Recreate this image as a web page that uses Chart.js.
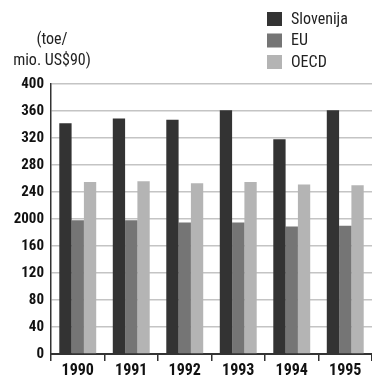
<!DOCTYPE html>
<html>
<head>
<meta charset="utf-8">
<script src="https://cdn.jsdelivr.net/npm/chart.js@4/dist/chart.umd.min.js"></script>
<style>
  html, body { margin: 0; padding: 0; background: #fff; }
  #wrap { position: relative; width: 372px; height: 375px; }
</style>
</head>
<body>
<div id="wrap"><canvas id="c" width="372" height="375"></canvas></div>
<script>
// Energy intensity, toe per million US$ (1990 prices)
const years = ['1990', '1991', '1992', '1993', '1994', '1995'];
const slovenija = [342, 349, 347, 361, 318, 361];
const eu = [198, 198, 195, 195, 189, 190];
const oecd = [255, 256, 253, 255, 251, 250];
const yTickLabels = ['0', '40', '80', '120', '160', '2000', '240', '280', '320', '360', '400'];
const unitLines = ['(toe/', 'mio. US$90)'];

const FONT = "'Roboto Condensed', 'DejaVu Sans Condensed', sans-serif";

// Unit caption at top left and the vertical legend at top right
const annotations = {
  id: 'annotations',
  afterDraw(chart) {
    const ctx = chart.ctx;
    ctx.save();
    ctx.fillStyle = '#222';
    ctx.font = '16px ' + FONT;
    ctx.textAlign = 'center';
    ctx.textBaseline = 'alphabetic';
    ctx.fillText(unitLines[0], 52, 44);
    ctx.fillText(unitLines[1], 52, 65);

    ctx.textAlign = 'left';
    ctx.textBaseline = 'middle';
    chart.data.datasets.forEach((ds, i) => {
      const y = 12 + i * 21.5;
      ctx.fillStyle = ds.backgroundColor;
      ctx.fillRect(267, y, 15, 14);
      ctx.fillStyle = '#222';
      ctx.fillText(ds.label, 291, y + 7.5);
    });
    ctx.restore();
  }
};

new Chart(document.getElementById('c'), {
  type: 'bar',
  data: {
    labels: years,
    datasets: [
      { label: 'Slovenija', data: slovenija, backgroundColor: '#333333' },
      { label: 'EU', data: eu, backgroundColor: '#757575' },
      { label: 'OECD', data: oecd, backgroundColor: '#b4b4b4' }
    ]
  },
  options: {
    responsive: false,
    animation: false,
    devicePixelRatio: 1,
    // plot runs slightly past the right edge so the last group sits flush
    layout: { padding: { top: 84, right: -2, left: 1, bottom: 0 } },
    plugins: { legend: { display: false }, tooltip: { enabled: false } },
    datasets: { bar: { categoryPercentage: 0.69, barPercentage: 1.0, borderWidth: 0 } },
    scales: {
      x: {
        grid: {
          offset: true,
          drawOnChartArea: false,
          drawTicks: true,
          tickLength: 7,
          color: '#333',
          lineWidth: 1.5
        },
        border: { display: true, color: '#333', width: 2 },
        ticks: {
          color: '#111',
          padding: 0,
          maxRotation: 0,
          font: { family: FONT, size: 16, weight: 'bold' }
        },
        afterFit(scale) { scale.height = 21; }
      },
      y: {
        min: 0,
        max: 400,
        ticks: {
          stepSize: 40,
          color: '#111',
          padding: 7,
          font: { family: FONT, size: 15, weight: 'bold' },
          callback: (v, i) => yTickLabels[i]
        },
        grid: {
          drawTicks: false,
          color: '#c4c4c4',
          lineWidth: 1.5
        },
        border: { display: true, color: '#333', width: 1.5 },
        afterFit(scale) { scale.width = 50; }
      }
    }
  },
  plugins: [annotations]
});
</script>
</body>
</html>
